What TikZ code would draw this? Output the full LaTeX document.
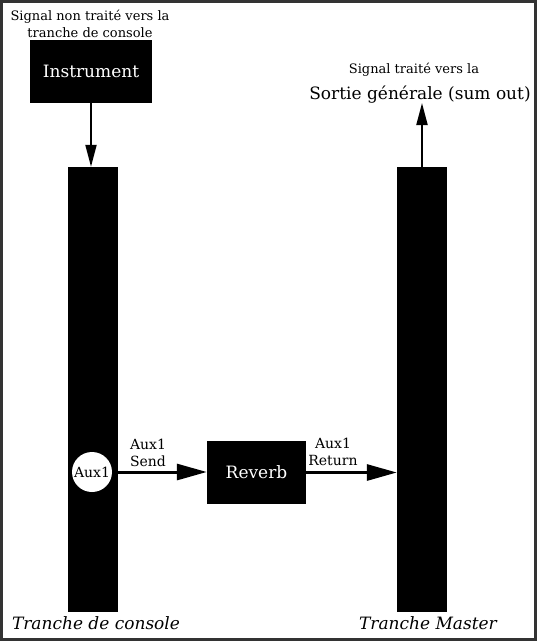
\documentclass[tikz,border=0pt]{standalone}
\usepackage{fontspec}
\setmainfont{DejaVu Serif}
\usetikzlibrary{arrows.meta}

\begin{document}
\begin{tikzpicture}[x=1pt, y=-1pt,
  blackbox/.style={fill=black, text=white, inner sep=0pt, font=\fontsize{17}{20}\selectfont},
  bar/.style={fill=black, minimum width=50pt, minimum height=445pt, inner sep=0pt},
  small/.style={font=\fontsize{13}{17}\selectfont, align=center},
  auxlabel/.style={font=\fontsize{14}{17}\selectfont, align=center},
  slicename/.style={font=\fontsize{17}{20}\selectfont\itshape},
  thinarrow/.style={line width=2pt, -{Triangle[length=22pt, width=11pt]}},
  thickarrow/.style={line width=3pt, -{Triangle[length=30pt, width=16pt]}}]
\path[draw=black!80, line width=3pt, fill=white] (1.5, 1.5) rectangle (535.5, 639.5);
\useasboundingbox (0, 0) rectangle (537, 641);
% the two slices
\node[bar] (console) at (93, 389.5) {};
\node[bar] (master) at (422, 389.5) {};
\node[slicename] (consolename) at (96, 623) {Tranche de console};
\node[slicename] (mastername) at (428, 623) {Tranche Master};
% input
\node[small] (intext) at (90, 24) {Signal non traité vers la\\tranche de console};
\node[blackbox, minimum width=122pt, minimum height=63pt] (instrument) at (91, 71.5) {Instrument};
\draw[thinarrow] (instrument.south) -- (instrument.south |- console.north);
% output
\node[font=\fontsize{13}{15}\selectfont] (outtext) at (414, 70) {Signal traité vers la};
\node[font=\fontsize{17}{20}\selectfont] (sumout) at (420, 95) {Sortie générale (sum out)};
\coordinate (outtip) at (422, 103);
\draw[thinarrow] (master.north) -- (outtip);
% aux loop
\node[circle, fill=white, minimum size=40pt, inner sep=0pt, font=\fontsize{14}{16}\selectfont] (aux) at (92, 472) {Aux1};
\node[blackbox, minimum width=99pt, minimum height=63pt] (reverb) at (256.5, 472.5) {Reverb};
\draw[thickarrow] (aux.east) -- (aux.east -| reverb.west);
\draw[thickarrow] (reverb.east) -- (reverb.east -| master.west);
\node[auxlabel] (send) at (148, 453) {Aux1\\Send};
\node[auxlabel] (return) at (333, 452) {Aux1\\Return};
\end{tikzpicture}
\end{document}
